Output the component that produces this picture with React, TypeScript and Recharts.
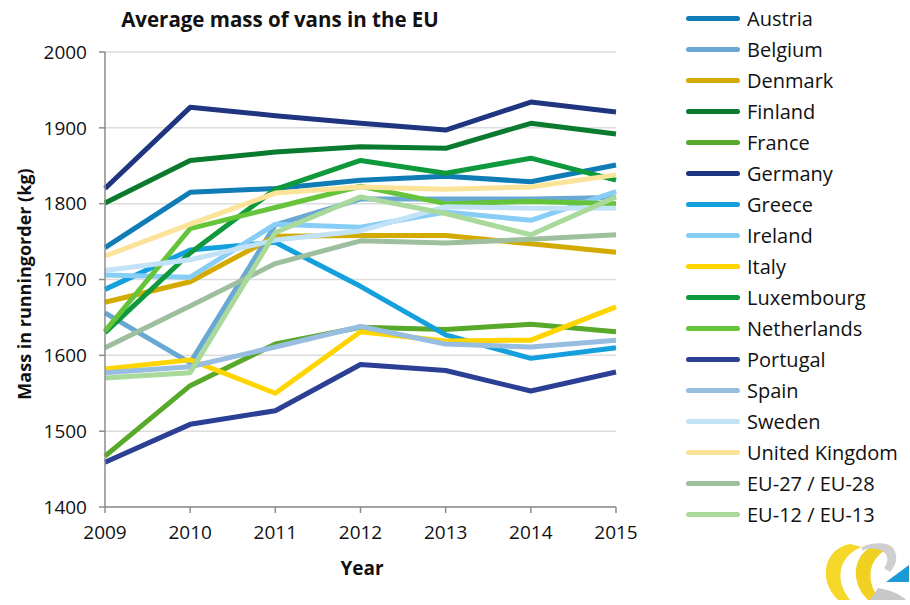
import React from "react";
import { LineChart, Line, XAxis, YAxis, CartesianGrid, Legend } from "recharts";

const years = [2009, 2010, 2011, 2012, 2013, 2014, 2015];
const yTicks = [1400, 1500, 1600, 1700, 1800, 1900, 2000];

const austria = [1742, 1815, 1820, 1831, 1836, 1829, 1851];
const belgium = [1656, 1590, 1772, 1806, 1806, 1806, 1808];
const denmark = [1670, 1697, 1757, 1758, 1758, 1747, 1736];
const finland = [1801, 1857, 1868, 1875, 1873, 1906, 1892];
const france = [1467, 1560, 1615, 1637, 1634, 1641, 1631];
const germany = [1820, 1927, 1916, 1906, 1897, 1934, 1921];
const greece = [1687, 1739, 1749, 1691, 1627, 1596, 1610];
const ireland = [1706, 1703, 1773, 1769, 1789, 1778, 1816];
const italy = [1582, 1594, 1550, 1631, 1619, 1620, 1664];
const luxembourg = [1630, 1735, 1819, 1857, 1840, 1860, 1831];
const netherlands = [1632, 1767, 1795, 1823, 1800, 1803, 1800];
const portugal = [1459, 1509, 1527, 1588, 1580, 1553, 1578];
const spain = [1577, 1585, 1611, 1638, 1615, 1611, 1620];
const sweden = [1712, 1726, 1752, 1764, 1796, 1794, 1794];
const unitedKingdom = [1731, 1773, 1814, 1822, 1819, 1822, 1838];
const eu27 = [1610, 1665, 1721, 1751, 1748, 1753, 1759];
const eu12 = [1570, 1577, 1762, 1809, 1787, 1759, 1809];

const seriesNames = [
  "Austria", "Belgium", "Denmark", "Finland", "France", "Germany", "Greece",
  "Ireland", "Italy", "Luxembourg", "Netherlands", "Portugal", "Spain",
  "Sweden", "United Kingdom", "EU-27 / EU-28", "EU-12 / EU-13",
];
const seriesValues = [
  austria, belgium, denmark, finland, france, germany, greece, ireland, italy,
  luxembourg, netherlands, portugal, spain, sweden, unitedKingdom, eu27, eu12,
];
const seriesColors = [
  "#0f7cb5", "#6aa8d4", "#d2aa00", "#0a7a2f", "#58a82a", "#1f3580", "#14a0dc",
  "#88cdf5", "#ffd500", "#0e9a3c", "#66c43a", "#2b3f94", "#97bde0", "#c2e2f8",
  "#fbe39a", "#9ebf9e", "#a9d99b",
];

const data = years.map((y, i) => {
  const row: Record<string, number> = { year: y };
  seriesNames.forEach((n, k) => {
    row[n] = seriesValues[k][i];
  });
  return row;
});

const FONT = "'Open Sans', sans-serif";

const LegendContent = () => {
  return (
    <div style={{ fontFamily: FONT }}>
      {seriesNames.map((n, k) => (
        <div key={n} style={{ height: 31, display: "flex", alignItems: "center" }}>
          <div style={{ width: 54, height: 5, borderRadius: 3, background: seriesColors[k], marginLeft: 6 }} />
          <span style={{ marginLeft: 7, fontSize: 20, color: "#111", whiteSpace: "nowrap" }}>{n}</span>
        </div>
      ))}
    </div>
  );
};

export default function App() {
  return (
    <div style={{ position: "absolute", left: 0, top: 0, width: 910, height: 605, background: "#fff" }}>
      <LineChart
        width={910}
        height={605}
        data={data}
        margin={{ top: 52, right: 294, bottom: 58, left: 45 }}
      >
        <CartesianGrid horizontal vertical={false} stroke="#dcdcdc" strokeWidth={1.5} />
        <XAxis
          dataKey="year"
          type="number"
          domain={[2009, 2015]}
          ticks={years}
          height={40}
          tickSize={6}
          tickMargin={13}
          axisLine={{ stroke: "#8c8c8c", strokeWidth: 1.5 }}
          tickLine={{ stroke: "#8c8c8c", strokeWidth: 1.5 }}
          tick={{ fill: "#111", fontSize: 19, fontFamily: FONT }}
        />
        <YAxis
          domain={[1400, 2000]}
          ticks={yTicks}
          width={60}
          tickSize={6}
          tickMargin={12}
          axisLine={{ stroke: "#8c8c8c", strokeWidth: 1.5 }}
          tickLine={{ stroke: "#8c8c8c", strokeWidth: 1.5 }}
          tick={{ fill: "#111", fontSize: 19, fontFamily: FONT }}
        />
        <YAxis
          yAxisId="right"
          orientation="right"
          domain={[1400, 2000]}
          width={0}
          tick={false}
          tickLine={false}
          axisLine={{ stroke: "#d9d9d9", strokeWidth: 1.5 }}
        />
        <Legend
          layout="vertical"
          align="center"
          verticalAlign="middle"
          content={LegendContent}
          wrapperStyle={{ left: 680, top: 3, width: 230 }}
        />
        {seriesNames.map((n, k) => (
          <Line
            key={n}
            dataKey={n}
            name={n}
            stroke={seriesColors[k]}
            strokeWidth={5}
            dot={false}
            activeDot={false}
            strokeLinejoin="round"
            isAnimationActive={false}
          />
        ))}
        <text x={280} y={19} textAnchor="middle" dominantBaseline="central" fontFamily={FONT} fontWeight="bold" fontSize={20.5} fill="#111">
          Average mass of vans in the EU
        </text>
        <text x={362} y={568} textAnchor="middle" dominantBaseline="central" fontFamily={FONT} fontWeight="bold" fontSize={19} fill="#111">
          Year
        </text>
        <text transform="rotate(-90)" x={-284} y={24} textAnchor="middle" dominantBaseline="central" fontFamily={FONT} fontWeight="bold" fontSize={18} fill="#111">
          Mass in runningorder (kg)
        </text>
        <g>
          <path d="M850 544 C 826 548, 816 578, 838 600 L 850 600 C 834 580, 838 556, 862 547 Z" fill="#f5d82a" />
          <path d="M880 544 C 856 548, 846 578, 868 600 L 880 600 C 864 580, 868 556, 892 547 Z" fill="#f0d020" />
          <path d="M862 547 C 872 542, 888 542, 893 548 C 899 556, 896 566, 890 572 L 884 568 C 889 562, 889 553, 880 550 C 874 548, 868 548, 862 551 Z" fill="#cfcfcf" />
          <path d="M870 600 L 906 600 C 900 594, 890 590, 878 588 Z" fill="#c8c8c8" />
          <path d="M886 582 L 909 565 L 909 582 Z" fill="#1a9ad6" />
        </g>
      </LineChart>
    </div>
  );
}
